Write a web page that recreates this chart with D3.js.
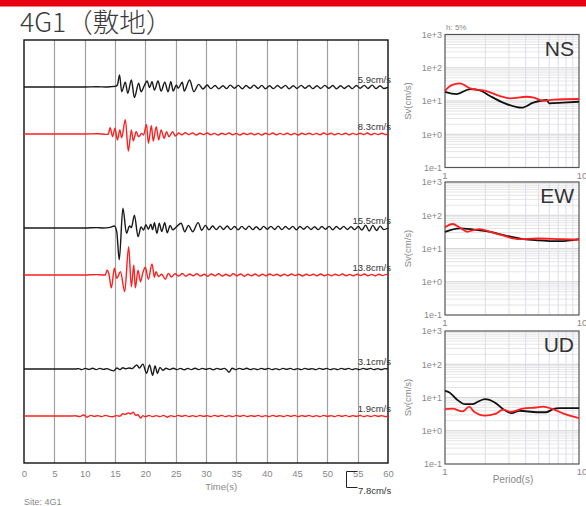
<!DOCTYPE html>
<html><head><meta charset="utf-8">
<script src="https://cdn.jsdelivr.net/npm/d3@7"></script>
<style>
body{margin:0;background:#fff;}
svg{display:block;font-family:"Liberation Sans",Arial,sans-serif;}
</style></head>
<body><svg id="c" width="586" height="506"></svg>
<script>
// ---------- DATA ----------
const title = "4G1（敷地）";
const site = "Site:  4G1";
const timeTicks = [0,5,10,15,20,25,30,35,40,45,50,55,60];
const scaleBarValue = 7.8; // cm/s
const traceLabels = ["5.9cm/s","8.3cm/s","15.5cm/s","13.8cm/s","3.1cm/s","1.9cm/s"];
const traceColors = ["black","red","black","red","black","red"];

// waveforms: [time s, velocity cm/s]
const wNSobs = [[0,0],[5,0],[10,0],[12,0.1],[13.5,0],[14.5,0.2],[15.0,0.3],[15.4,1.0],[15.75,5.9],[16.1,-2.3],[16.7,2.4],[17.1,-3.1],[17.7,3.4],[18.2,-5.2],[18.9,1.8],[19.3,-2.3],[19.8,0.5],[20.3,2.9],[20.7,-0.3],[21.1,2.6],[21.5,-1.5],[22.1,2.9],[22.6,-2.0],[23.2,2.3],[23.75,-2.3],[24.2,2.6],[24.6,-2.0],[25.1,1.0],[25.4,-0.6],[26.1,2.3],[26.4,-2.0],[27.3,3.4],[28.0,-2.3],[28.8,1.3],[29.5,-1.0],[30.2,1.0],[30.8,-0.8],[31.5,0.7],[32.1,-0.9],[32.8,0.6],[33.4,-0.8],[34.0,0.9],[34.7,-0.6],[35.3,0.8],[36.0,-0.9],[36.6,0.7],[37.3,-0.6],[37.9,0.9],[38.6,-0.7],[39.2,0.8],[39.8,-0.9],[40.5,0.6],[41.1,-0.8],[41.8,0.7],[42.4,-0.6],[43.1,0.8],[43.7,-0.9],[44.4,0.6],[45.0,-0.7],[45.7,0.8],[46.3,-0.6],[47.0,0.7],[47.6,-0.8],[48.3,0.6],[48.9,-0.7],[49.6,0.8],[50.2,-0.6],[50.9,0.7],[51.5,-0.9],[52.2,0.6],[52.8,-0.7],[53.5,0.6],[54.1,-0.8],[54.8,0.7],[55.4,-0.6],[56.1,0.8],[56.7,-0.7],[57.4,0.9],[58.0,-0.8],[58.7,0.6],[59.3,-0.7],[60,0]];
const wNSsite = [[0,0],[5,0],[10,0],[12,0.1],[13,0],[13.6,-0.2],[13.9,0],[14.2,3.1],[14.6,-1.3],[15.0,2.8],[15.4,-2.9],[15.8,2.0],[16.1,-1.8],[16.7,7.0],[17.2,-8.3],[17.7,2.0],[18.0,-3.4],[18.5,1.1],[18.9,-1.3],[19.4,0.3],[19.7,-0.5],[20.2,4.7],[20.5,-4.5],[21.0,4.0],[21.3,-3.4],[21.8,3.6],[22.2,-2.9],[22.6,2.0],[23.1,-2.1],[23.5,1.1],[23.9,-1.3],[24.5,1.1],[24.95,-1.0],[25.5,0.5],[26.0,-0.4],[26.6,0.6],[27.2,-0.3],[27.8,0.5],[28.4,-0.5],[29.0,0.4],[29.6,-0.3],[30.2,0.5],[30.8,-0.4],[31.4,0.3],[32.0,-0.5],[32.6,0.4],[33.2,-0.3],[33.8,0.5],[34.4,-0.4],[35.0,0.3],[35.6,-0.5],[36.2,0.4],[36.8,-0.3],[37.4,0.4],[38.0,-0.4],[38.6,0.3],[39.2,-0.5],[39.8,0.4],[40.4,-0.3],[41.0,0.5],[41.6,-0.4],[42.2,0.3],[42.8,-0.3],[43.4,0.4],[44.0,-0.4],[44.6,0.3],[45.2,-0.5],[45.8,0.4],[46.4,-0.3],[47.0,0.4],[47.6,-0.3],[48.2,0.3],[48.8,-0.4],[49.4,0.5],[50.0,-0.3],[50.6,0.4],[51.2,-0.4],[51.8,0.3],[52.4,-0.3],[53.0,0.4],[53.6,-0.4],[54.2,0.3],[54.8,-0.3],[55.4,0.4],[56.0,-0.3],[56.6,0.5],[57.2,-0.4],[57.8,0.3],[58.4,-0.3],[59.0,0.4],[59.6,-0.3],[60,0]];
const wEWobs = [[0,0],[5,0],[10,0],[12,0.2],[13,0],[14.2,0.3],[14.9,1.0],[15.3,-2.0],[15.7,-15.5],[16.3,9.6],[16.9,-2.6],[17.4,1.0],[17.7,0.2],[18.2,6.3],[18.8,-4.2],[19.3,0.5],[19.7,-1.0],[20.1,1.6],[20.5,-0.6],[20.9,1.8],[21.2,-0.8],[21.5,2.6],[21.9,-2.6],[22.3,2.3],[22.7,-1.7],[23.2,2.6],[23.6,-2.3],[24.1,1.3],[24.5,-0.9],[25.1,0.5],[25.9,2.3],[26.5,-1.8],[27.1,1.3],[27.8,-1.8],[28.7,2.6],[29.3,-1.1],[29.9,1.3],[30.5,-0.9],[31.1,1.0],[31.7,-0.8],[32.3,0.9],[32.9,-0.7],[33.5,1.0],[34.1,-0.8],[34.7,0.7],[35.3,-0.9],[35.9,0.8],[36.5,-0.7],[37.1,0.9],[37.7,-0.8],[38.3,0.6],[38.9,-0.9],[39.5,0.8],[40.1,-0.6],[40.7,0.8],[41.3,-0.7],[41.9,0.9],[42.5,-0.8],[43.1,0.7],[43.7,-0.6],[44.3,0.8],[44.9,-0.9],[45.5,0.7],[46.1,-0.6],[46.7,0.8],[47.3,-0.7],[47.9,0.6],[48.5,-0.8],[49.1,0.7],[49.7,-0.6],[50.3,0.8],[50.9,-0.9],[51.5,0.7],[52.1,-0.6],[52.7,0.8],[53.3,-0.7],[53.9,0.6],[54.5,-0.8],[55.1,0.7],[55.7,-1.0],[56.3,1.4],[56.9,-1.5],[57.5,1.3],[58.1,-1.2],[58.7,0.9],[59.3,-0.8],[60,0]];
const wEWsite = [[0,0],[5,0],[10,0],[12,0.2],[13,0],[13.4,0],[13.7,2.4],[14.0,0.5],[14.4,-6.3],[14.9,3.3],[15.3,-1.6],[15.9,1.6],[16.6,-8.1],[17.25,13.8],[17.7,-5.7],[18.1,4.9],[18.35,-6.3],[18.8,2.4],[19.2,-3.3],[19.6,1.2],[20.0,3.8],[20.5,-2.1],[21.1,5.4],[21.5,-1.1],[21.75,1.6],[22.2,-0.8],[22.7,0.4],[23.3,-2.1],[23.8,0.8],[24.3,-1.0],[24.9,0.6],[25.5,-0.5],[26.1,0.7],[26.7,-0.6],[27.3,0.5],[27.9,-0.4],[28.5,0.6],[29.1,-0.5],[29.7,0.4],[30.3,-0.6],[30.9,0.5],[31.5,-0.4],[32.1,0.6],[32.7,-0.5],[33.3,0.4],[33.9,-0.5],[34.5,0.6],[35.1,-0.4],[35.7,0.5],[36.3,-0.6],[36.9,0.4],[37.5,-0.4],[38.1,0.5],[38.7,-0.5],[39.3,0.4],[39.9,-0.4],[40.5,0.5],[41.1,-0.3],[41.7,0.4],[42.3,-0.5],[42.9,0.4],[43.5,-0.4],[44.1,0.5],[44.7,-0.3],[45.3,0.4],[45.9,-0.5],[46.5,0.4],[47.1,-0.3],[47.7,0.4],[48.3,-0.4],[48.9,0.5],[49.5,-0.4],[50.1,0.3],[50.7,-0.4],[51.3,0.4],[51.9,-0.3],[52.5,0.5],[53.1,-0.4],[53.7,0.3],[54.3,-0.4],[54.9,0.4],[55.5,-0.3],[56.1,0.5],[56.7,-0.4],[57.3,0.3],[57.9,-0.4],[58.5,0.4],[59.1,-0.3],[59.7,0.3],[60,0]];
const wUDobs = [[0,0],[5,0],[8.5,0],[9.0,0.2],[9.5,-0.3],[10.1,0.3],[10.7,-0.2],[11.3,0.4],[11.9,-0.3],[12.5,0.3],[13.1,-0.2],[13.7,0.2],[14.2,-0.4],[14.8,-0.9],[15.3,0.5],[15.8,-0.3],[16.3,0.6],[16.8,0.1],[17.3,0.5],[17.8,0.2],[18.3,1.4],[18.6,2.0],[19.0,0.5],[19.6,2.4],[20.2,-2.1],[20.7,2.0],[21.2,-3.1],[21.6,1.5],[22.0,-2.2],[22.4,0.8],[22.9,-0.6],[23.4,0.4],[24.0,-0.3],[24.6,0.4],[25.2,-0.3],[25.8,0.3],[26.4,-0.4],[27.0,0.3],[27.6,-0.3],[28.2,0.4],[28.8,-0.3],[29.4,0.3],[30.0,-0.2],[30.6,0.3],[31.2,-0.4],[31.8,0.3],[32.4,-0.2],[33.0,0.3],[33.4,-0.4],[33.8,-1.6],[34.3,0.4],[34.9,-0.3],[35.5,0.3],[36.1,-0.2],[36.7,0.4],[37.3,-0.3],[37.9,0.2],[38.5,-0.3],[39.1,0.3],[39.7,-0.2],[40.3,0.3],[40.9,-0.3],[41.5,0.2],[42.1,-0.3],[42.7,0.3],[43.3,-0.2],[43.9,0.3],[44.5,-0.3],[45.1,0.2],[45.7,-0.3],[46.3,0.3],[46.9,-0.2],[47.5,0.2],[48.1,-0.3],[48.7,0.3],[49.3,-0.2],[49.9,0.3],[50.5,-0.3],[51.1,0.2],[51.7,-0.3],[52.3,0.3],[52.9,-0.2],[53.5,0.3],[54.1,-0.3],[54.7,0.2],[55.3,-0.3],[55.9,0.3],[56.5,-0.2],[57.1,0.3],[57.7,-0.3],[58.3,0.2],[58.9,-0.3],[59.5,0.2],[60,0]];
const wUDsite = [[0,0],[5,0],[8.0,0],[8.5,0.1],[9.2,-0.3],[9.8,0.5],[10.4,-0.6],[11.0,0.3],[11.6,-0.2],[12.2,0.2],[12.8,-0.3],[13.4,0.3],[14.0,-0.2],[14.6,-0.4],[15.2,0.2],[15.8,-0.1],[16.3,1.1],[16.7,0.8],[17.2,1.5],[17.6,1.0],[18.0,1.9],[18.4,0.4],[18.8,0.6],[19.2,-1.0],[19.6,0.2],[20.0,-0.4],[20.6,0.3],[21.2,-0.3],[21.8,0.2],[22.4,-0.3],[23.0,0.3],[23.6,-0.6],[24.2,0.2],[24.8,-0.3],[25.4,0.3],[26.0,-0.2],[26.6,0.3],[27.2,-0.3],[27.8,0.2],[28.4,-0.3],[29.0,0.3],[29.6,-0.2],[30.2,0.2],[30.8,-0.3],[31.4,0.3],[32.0,-0.2],[32.6,0.3],[33.2,-0.3],[33.8,0.2],[34.4,-0.3],[35.0,0.3],[35.6,-0.2],[36.2,0.3],[36.8,-0.3],[37.4,0.2],[38.0,-0.2],[38.6,0.3],[39.2,-0.3],[39.8,0.2],[40.4,-0.3],[41.0,0.3],[41.6,-0.2],[42.2,0.2],[42.8,-0.3],[43.4,0.3],[44.0,-0.2],[44.6,0.3],[45.2,-0.3],[45.8,0.2],[46.4,-0.2],[47.0,0.3],[47.6,-0.3],[48.2,0.2],[48.8,-0.3],[49.4,0.3],[50.0,-0.2],[50.6,0.2],[51.2,-0.3],[51.8,0.3],[52.4,-0.2],[53.0,0.3],[53.6,-0.3],[54.2,0.2],[54.8,-0.2],[55.4,0.3],[56.0,-0.3],[56.6,0.2],[57.2,-0.3],[57.8,0.3],[58.4,-0.2],[59.0,0.2],[59.6,-0.3],[60,0]];
const waveforms = [wNSobs, wNSsite, wEWobs, wEWsite, wUDobs, wUDsite];

// response spectra (h = 5%): [period s, Sv cm/s]
const panelNames = ["NS","EW","UD"];
const svNSblack = [[1.0,18.9],[1.22,16.2],[1.54,22.8],[1.82,21],[2.17,14.1],[2.8,8.5],[3.73,6.3],[4.56,8.9],[5.74,10.7],[6.0,8.5],[7.6,8.9],[10,9.5]];
const svNSred = [[1.0,20.3],[1.12,30],[1.29,33.7],[1.54,24],[2.04,19.9],[2.57,14.1],[3.05,12.0],[4.07,13.4],[4.6,12.7],[5.42,10.2],[6.5,11],[10,11.5]];
const svEWblack = [[1.0,31.8],[1.29,40.4],[1.64,37],[2.17,31.8],[2.88,24],[3.84,19.1],[4.9,17.6],[7.2,16.6],[10,19.1]];
const svEWred = [[1.0,43.3],[1.14,54.5],[1.29,43],[1.47,31.8],[1.6,35],[1.82,38.5],[2.0,35],[2.57,26],[3.6,19.1],[4.9,20],[7.2,19.1],[10,18.3]];
const svUDblack = [[1.0,15.9],[1.08,14.2],[1.22,8.9],[1.41,6.3],[1.6,6.3],[1.77,7.6],[1.99,8.9],[2.35,7.1],[2.72,4.45],[3.14,3.38],[3.6,4.0],[4.83,3.6],[5.7,3.6],[6.4,4.45],[7.2,4.8],[10,4.8]];
const svUDred = [[1.0,4.45],[1.14,4.6],[1.35,3.8],[1.52,5.3],[1.64,3.8],[1.99,2.86],[2.37,3.2],[2.72,4.3],[3.1,3.7],[3.8,4.6],[4.8,5.0],[5.4,5.3],[6.4,4.45],[7.8,3.2],[10,2.4]];
const spectra = [[svNSblack, svNSred],[svEWblack, svEWred],[svUDblack, svUDred]];
const svTicks = [1000,100,10,1,0.1];
const svTickLabels = ["1e+3","1e+2","1e+1","1e+0","1e-1"];
const periodTicks = [1,10];

// ---------- DRAW ----------
const svg = d3.select("#c");
const RED = "#ff1f1f";
const colorOf = c => c === "red" ? RED : "#1a1a1a";

svg.append("rect").attr("x",0).attr("y",0).attr("width",586).attr("height",6.5).attr("fill","#e60012");
svg.append("text").attr("x",20).attr("y",31.5).text(title)
  .attr("font-family","'Noto Sans CJK JP','Noto Sans',sans-serif").attr("font-size",26.5).attr("font-weight",300).attr("fill","#3a3a3a");

// left waveform panel
const L = {x0:24, x1:388, y0:40, y1:463};
const xT = d3.scaleLinear().domain([0,60]).range([L.x0, L.x1]);
const slot = d3.scaleLinear().domain([0,9]).range([L.y0, L.y1]);
const amp = d3.scaleLinear().domain([0, scaleBarValue]).range([0, 16]);
const baseIdx = [1,2,4,5,7,8];

const gL = svg.append("g");
gL.selectAll("line.grid").data(timeTicks.slice(1,-1)).join("line")
  .attr("x1",d=>Math.round(xT(d))+0.5).attr("x2",d=>Math.round(xT(d))+0.5)
  .attr("y1",L.y0).attr("y2",L.y1).attr("stroke","#a0a0a0").attr("stroke-width",1.2);
gL.append("rect").attr("x",L.x0).attr("y",L.y0).attr("width",L.x1-L.x0).attr("height",L.y1-L.y0)
  .attr("fill","none").attr("stroke","#111").attr("stroke-width",1.4);

waveforms.forEach((w,i)=>{
  const by = slot(baseIdx[i]);
  const line = d3.line().x(d=>xT(d[0])).y(d=>by - amp(d[1])).curve(d3.curveMonotoneX);
  gL.append("path").attr("d",line(w)).attr("fill","none")
    .attr("stroke",colorOf(traceColors[i])).attr("stroke-width",1.4).attr("stroke-linejoin","round");
  gL.append("text").attr("x",391).attr("y",by-4).attr("text-anchor","end")
    .attr("font-size",9.5).attr("fill","#333").text(traceLabels[i]);
});

const xAxis = d3.axisBottom(xT).tickValues(timeTicks).tickSize(0).tickPadding(7);
const ax = gL.append("g").attr("transform",`translate(0,${L.y1})`).call(xAxis);
ax.select(".domain").remove();
ax.selectAll("text").attr("font-size",9.5).attr("fill","#888").attr("font-family","'Liberation Sans',Arial,sans-serif");
gL.append("text").attr("x",xT(32.5)).attr("y",490).attr("text-anchor","middle").attr("font-size",9.5).attr("fill","#888").text("Time(s)");
gL.append("text").attr("x",24).attr("y",505).attr("font-size",9).attr("fill","#888").text(site);

// scale bar
const sbX = 346.5, sbY = 487.5;
gL.append("path").attr("d",`M${sbX+11},${sbY-amp(scaleBarValue)} H${sbX} V${sbY} H${sbX+11}`)
  .attr("fill","none").attr("stroke","#222").attr("stroke-width",1);
gL.append("text").attr("x",358).attr("y",494).attr("font-size",9.5).attr("fill","#333").text(scaleBarValue+"cm/s");

// right spectra panels
const R = {x0:445, x1:579, h:133};
const tops = [34.5, 182, 331];
const xP = d3.scaleLog().domain([1,10]).range([R.x0, R.x1]);
const minorP = [2,3,4,5,6,7,8,9];
const minorSv = [];
[0.1,1,10,100].forEach(dec => [2,3,4,5,6,7,8,9].forEach(m => minorSv.push(dec*m)));

tops.forEach((top,pi)=>{
  const g = svg.append("g");
  const yS = d3.scaleLog().domain([0.1,1000]).range([top+R.h, top]);
  g.selectAll("line.h").data(minorSv).join("line")
    .attr("x1",R.x0).attr("x2",R.x1).attr("y1",d=>yS(d)).attr("y2",d=>yS(d))
    .attr("stroke","#dedede").attr("stroke-width",0.8);
  g.selectAll("line.hm").data([100,10,1]).join("line")
    .attr("x1",R.x0).attr("x2",R.x1).attr("y1",d=>yS(d)).attr("y2",d=>yS(d))
    .attr("stroke","#d4d4d4").attr("stroke-width",1);
  g.selectAll("line.v").data(minorP).join("line")
    .attr("x1",d=>xP(d)).attr("x2",d=>xP(d)).attr("y1",top).attr("y2",top+R.h)
    .attr("stroke","#dcdcec").attr("stroke-width",1);
  g.append("rect").attr("x",R.x0).attr("y",top).attr("width",R.x1-R.x0).attr("height",R.h)
    .attr("fill","none").attr("stroke","#555").attr("stroke-width",1.2);
  const ln = d3.line().x(d=>xP(d[0])).y(d=>yS(d[1])).curve(d3.curveMonotoneX);
  g.append("path").attr("d",ln(spectra[pi][0])).attr("fill","none").attr("stroke","#111").attr("stroke-width",1.8);
  g.append("path").attr("d",ln(spectra[pi][1])).attr("fill","none").attr("stroke",RED).attr("stroke-width",1.8);
  const ya = d3.axisLeft(yS).tickValues(svTicks).tickFormat((d,i)=>svTickLabels[i]).tickSize(0).tickPadding(3);
  const yg = g.append("g").attr("transform",`translate(${R.x0},0)`).call(ya);
  yg.select(".domain").remove();
  yg.selectAll("text").attr("font-size",9).attr("fill","#888").attr("font-family","'Liberation Sans',Arial,sans-serif");
  g.selectAll("text.pt").data(periodTicks).join("text").attr("class","pt")
    .attr("x",d=>xP(d)+(d===10?3:0)).attr("y",top+R.h+11).attr("text-anchor","middle")
    .attr("font-size",9.5).attr("fill","#888").text(d=>d);
  g.append("text").attr("transform",`translate(411,${top+R.h/2}) rotate(-90)`).attr("text-anchor","middle")
    .attr("font-size",9.5).attr("fill","#888").text("Sv(cm/s)");
  g.append("text").attr("x",574).attr("y",top+21).attr("text-anchor","end")
    .attr("font-size",21).attr("fill","#333").text(panelNames[pi]);
});
svg.append("text").attr("x",446).attr("y",30).attr("font-size",8).attr("fill","#888").text("h: 5%");
svg.append("text").attr("x",513).attr("y",483).attr("text-anchor","middle").attr("font-size",10).attr("fill","#888").text("Period(s)");
</script></body></html>
